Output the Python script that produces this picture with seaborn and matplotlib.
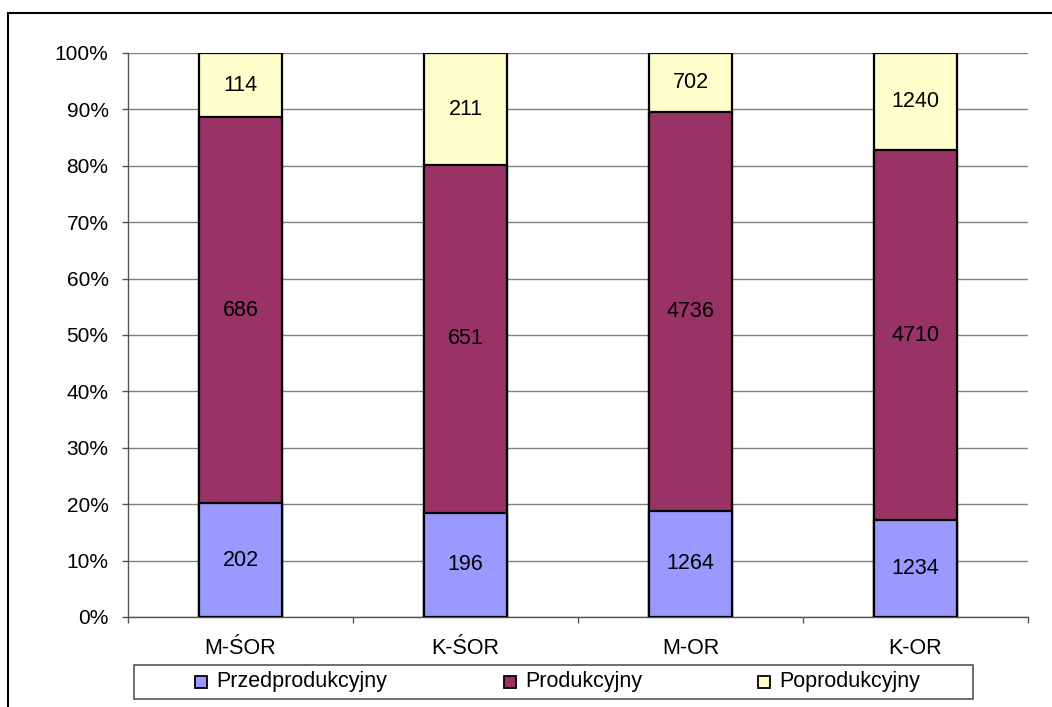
import matplotlib
matplotlib.use("Agg")
import matplotlib.pyplot as plt
from matplotlib.patches import Rectangle
from matplotlib.lines import Line2D
from matplotlib.ticker import PercentFormatter, FixedLocator
import seaborn as sns
import pandas as pd
import numpy as np

categories = ["M-ŚOR", "K-ŚOR", "M-OR", "K-OR"]
przedprodukcyjny = [202, 196, 1264, 1234]
produkcyjny = [686, 651, 4736, 4710]
poprodukcyjny = [114, 211, 702, 1240]
series_names = ["Przedprodukcyjny", "Produkcyjny", "Poprodukcyjny"]
colors = ["#9999FF", "#993366", "#FFFFCC"]

sns.set_theme(style="white")
plt.rcParams['font.family'] = ['Liberation Sans', 'DejaVu Sans']

W, H = 1052, 707
fig = plt.figure(figsize=(W / 100, H / 100), dpi=100)
ax = fig.add_axes([128 / W, 1 - 617 / H, 900 / W, 564 / H])

vals = np.array([przedprodukcyjny, produkcyjny, poprodukcyjny], dtype=float)
totals = vals.sum(axis=0)
pct = vals / totals * 100
cum = np.cumsum(pct, axis=0)

# draw cumulative bars from top layer down so lower layers overlay
for i in [2, 1, 0]:
    df = pd.DataFrame({"cat": categories, "val": cum[i]})
    sns.barplot(data=df, x="cat", y="val", color=colors[i], saturation=1,
                width=0.37, edgecolor="black", linewidth=1.6, ax=ax, zorder=3)

# labels
bottoms = np.vstack([np.zeros(4), cum[:-1]])
for i in range(3):
    for j in range(4):
        yc = bottoms[i, j] + pct[i, j] / 2
        ax.text(j, yc, f"{int(vals[i, j])}", ha="center", va="center",
                fontsize=15.5, color="black", zorder=5)

ax.set_xlim(-0.5, 3.5)
ax.set_ylim(0, 100)
ax.set_yticks(np.arange(0, 101, 10))
ax.yaxis.set_major_formatter(PercentFormatter(decimals=0))
ax.grid(axis="y", color="#808080", linewidth=1.0, zorder=0)
ax.grid(axis="x", visible=False)
ax.set_axisbelow(True)
ax.set_xlabel("")
ax.set_ylabel("")
for s in ["top", "right"]:
    ax.spines[s].set_visible(False)
for s in ["left", "bottom"]:
    ax.spines[s].set_color("#555555")
    ax.spines[s].set_linewidth(1.0)

ax.tick_params(axis="y", which="major", direction="out", length=4, width=1,
               color="#555555", pad=10, labelsize=15, left=True)
ax.tick_params(axis="x", which="major", length=0, pad=15, labelsize=15.5)
ax.xaxis.set_minor_locator(FixedLocator([-0.5, 0.5, 1.5, 2.5, 3.5]))
ax.tick_params(axis="x", which="minor", direction="out", length=4, width=1,
               color="#555555", bottom=True)
for lab in ax.get_xticklabels() + ax.get_yticklabels():
    lab.set_color("black")

# outer frame (top & left visible)
fig.add_artist(Line2D([8 / W, 1.0], [1 - 13 / H, 1 - 13 / H], transform=fig.transFigure,
                      color="black", linewidth=1.5))
fig.add_artist(Line2D([8 / W, 8 / W], [1 - 13 / H, 0], transform=fig.transFigure,
                      color="black", linewidth=1.5))

# legend box
lx0, lx1, ly0, ly1 = 134, 973, 665, 699
fig.add_artist(Rectangle((lx0 / W, 1 - ly1 / H), (lx1 - lx0) / W, (ly1 - ly0) / H,
                         transform=fig.transFigure, facecolor="white",
                         edgecolor="#555555", linewidth=1.2))
marker_x = [195, 504, 758]
ym = (ly0 + ly1) / 2
ms = 12
for name, c, mx in zip(series_names, colors, marker_x):
    fig.add_artist(Rectangle((mx / W, 1 - (ym + ms / 2) / H), ms / W, ms / H,
                             transform=fig.transFigure, facecolor=c,
                             edgecolor="black", linewidth=1.3))
    fig.text((mx + ms + 9) / W, 1 - ym / H, name, ha="left", va="center",
             fontsize=15.5, color="black")

fig.savefig("out.png", dpi=100, facecolor="white")
